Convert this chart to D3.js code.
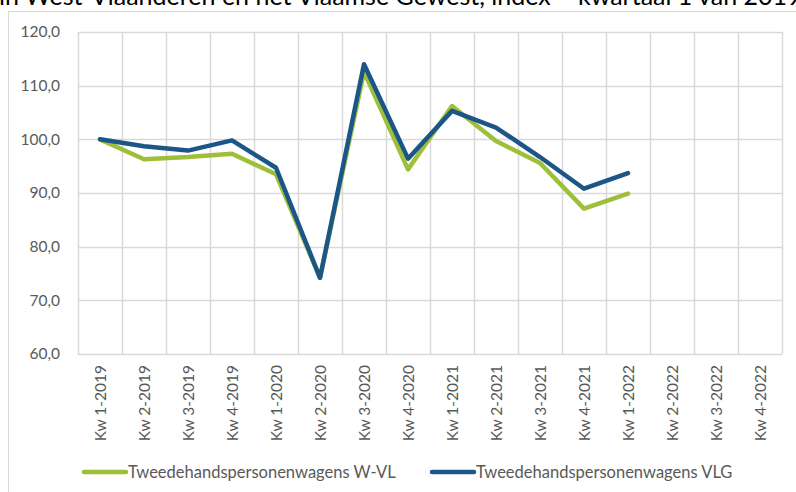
<!DOCTYPE html>
<html>
<head>
<meta charset="utf-8">
<script src="https://cdn.jsdelivr.net/npm/d3@7"></script>
<style>
  body { margin: 0; background: #fff; }
  svg { display: block; font-family: Lato, "Open Sans", sans-serif; }
</style>
</head>
<body>
<div id="chart"></div>
<script>
// kwartalen en indexwaarden (Kw 1-2019 = 100)
var quarters = ["Kw 1-2019", "Kw 2-2019", "Kw 3-2019", "Kw 4-2019",
  "Kw 1-2020", "Kw 2-2020", "Kw 3-2020", "Kw 4-2020",
  "Kw 1-2021", "Kw 2-2021", "Kw 3-2021", "Kw 4-2021",
  "Kw 1-2022", "Kw 2-2022", "Kw 3-2022", "Kw 4-2022"];
var wvl = [100.0, 96.3, 96.7, 97.3, 93.5, 74.2, 112.6, 94.4, 106.2, 99.7, 95.6, 87.1, 89.9];
var vlg = [100.0, 98.7, 97.9, 99.8, 94.7, 74.2, 114.0, 96.4, 105.3, 102.2, 96.7, 90.8, 93.7];
var yTicks = [60, 70, 80, 90, 100, 110, 120];
var seriesNames = ["Tweedehandspersonenwagens W-VL", "Tweedehandspersonenwagens VLG"];
var title = "in West-Vlaanderen en het Vlaamse Gewest, index = kwartaal 1 van 2019";

var width = 796, height = 492;
var margin = { left: 78, right: 14, top: 32, bottom: 138 };
var colors = ["#9dbf3a", "#1c5587"];

var svg = d3.select('#chart').append('svg')
  .attr('width', width)
  .attr('height', height);

// titel, bovenaan half afgesneden zoals in de bron
svg.append('text')
  .attr('x', -1)
  .attr('y', 5)
  .attr('font-size', 25)
  .attr('fill', '#000')
  .text(title);

// kader
svg.append('rect')
  .attr('x', 8.5)
  .attr('y', 11.5)
  .attr('width', 800)
  .attr('height', 500)
  .attr('fill', '#fff')
  .attr('stroke', '#d9d9d9');

var x = d3.scaleBand()
  .domain(quarters)
  .range([margin.left, width - margin.right]);

var y = d3.scaleLinear()
  .domain([60, 120])
  .range([height - margin.bottom, margin.top]);

var nl = d3.formatLocale({ decimal: ",", thousands: ".", grouping: [3], currency: ["€", ""] });
var fmt = nl.format(".1f");

// rasterlijnen
var grid = svg.append('g');
grid.selectAll('line.h')
  .data(yTicks)
  .enter().append('line')
  .attr('class', 'h')
  .attr('x1', margin.left)
  .attr('x2', width - margin.right)
  .attr('y1', function(d) { return Math.round(y(d)) + 0.5; })
  .attr('y2', function(d) { return Math.round(y(d)) + 0.5; })
  .attr('stroke', '#d9d9d9')
  .attr('stroke-width', 1.5);

var bounds = quarters.map(function(q) { return x(q); }).concat([width - margin.right]);
grid.selectAll('line.v')
  .data(bounds)
  .enter().append('line')
  .attr('class', 'v')
  .attr('x1', function(d) { return Math.round(d) + 0.5; })
  .attr('x2', function(d) { return Math.round(d) + 0.5; })
  .attr('y1', margin.top)
  .attr('y2', height - margin.bottom)
  .attr('stroke', '#d9d9d9')
  .attr('stroke-width', 1.5);

// y-as
var yAxis = svg.append('g')
  .attr('transform', 'translate(' + (margin.left - 15) + ',0)')
  .call(d3.axisLeft(y).tickValues(yTicks).tickFormat(fmt).tickSize(0));
yAxis.select('.domain').remove();
yAxis.selectAll('text')
  .attr('font-size', 15.5)
  .attr('fill', '#595959')
  .attr('font-family', 'Lato, sans-serif');

// x-as
var xAxis = svg.append('g')
  .attr('transform', 'translate(0,' + (height - margin.bottom) + ')')
  .call(d3.axisBottom(x).tickSize(0));
xAxis.select('.domain').remove();
xAxis.selectAll('text')
  .attr('font-size', 15.5)
  .attr('fill', '#595959')
  .attr('font-family', 'Lato, sans-serif')
  .attr('transform', 'rotate(-90)')
  .attr('text-anchor', 'end')
  .attr('x', -11)
  .attr('y', 1)
  .attr('dy', '0.35em');

// lijnen
var line = d3.line()
  .x(function(d, i) { return x(quarters[i]) + x.bandwidth() / 2; })
  .y(function(d) { return y(d); });

[wvl, vlg].forEach(function(vals, k) {
  svg.append('path')
    .datum(vals)
    .attr('d', line)
    .attr('fill', 'none')
    .attr('stroke', colors[k])
    .attr('stroke-width', 4.5)
    .attr('stroke-linejoin', 'round')
    .attr('stroke-linecap', 'round');
});

// legenda
var legendX = [84, 432];
var legend = svg.selectAll('g.legend')
  .data(seriesNames)
  .enter().append('g')
  .attr('class', 'legend')
  .attr('transform', function(d, i) { return 'translate(' + legendX[i] + ',472)'; });
legend.append('line')
  .attr('x1', 0).attr('x2', 42)
  .attr('stroke', function(d, i) { return colors[i]; })
  .attr('stroke-width', 4.5)
  .attr('stroke-linecap', 'round');
legend.append('text')
  .attr('x', 44)
  .attr('dy', '0.35em')
  .attr('font-size', 16.5)
  .attr('fill', '#595959')
  .text(function(d) { return d; });
</script>
</body>
</html>
